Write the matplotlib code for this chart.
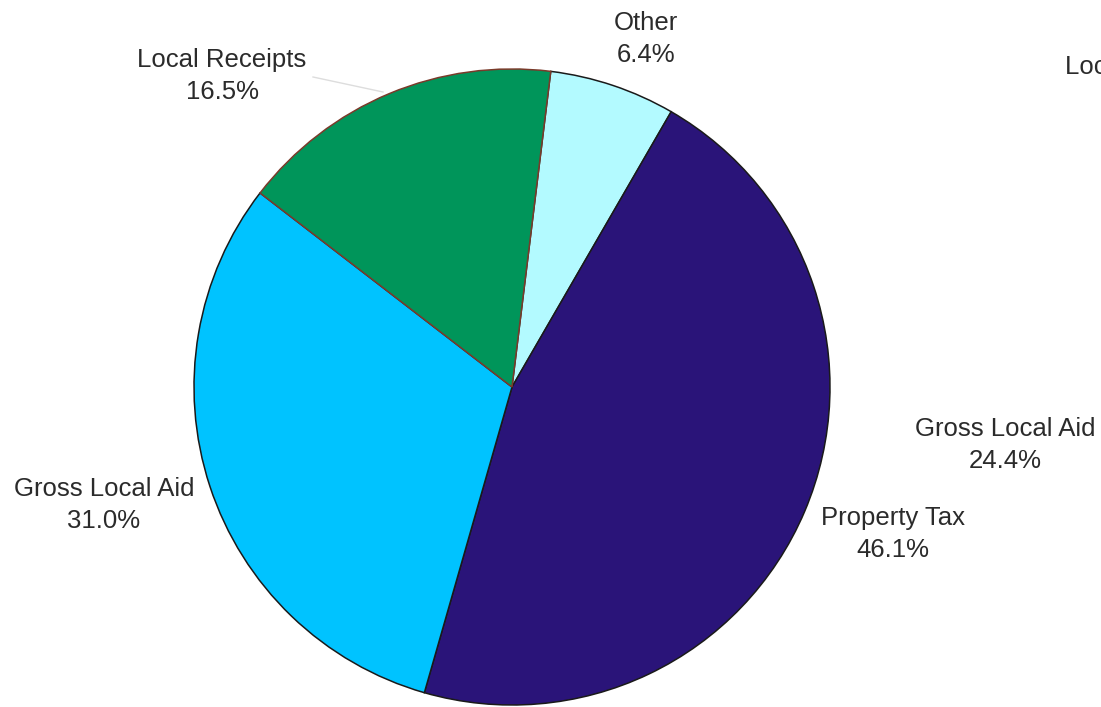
import matplotlib
matplotlib.use("Agg")
import matplotlib.pyplot as plt

# Revenue sources (percent of total), listed clockwise from the top
categories = ["Other", "Property Tax", "Gross Local Aid", "Local Receipts"]
shares = [6.4, 46.1, 31.0, 16.5]
colors = ["#B3FAFF", "#2A1479", "#00C3FF", "#00955A"]
edge_colors = ["#1a1a1a", "#1a1a1a", "#1a1a1a", "#7a3a2a"]

# Label positions in pixel coordinates (x right, y up)
label_pos = {
    "Other": (646, 668),
    "Property Tax": (893, 173),
    "Gross Local Aid": (104, 202),
    "Local Receipts": (222, 631),
}

# Second chart partly visible at the right edge
second_labels = ["Gross Local Aid", "Local Receipts"]
second_shares = [24.4, None]
second_pos = [(1005, 262), (1150, 640)]

W, H = 1101, 707
fig = plt.figure(figsize=(W / 100, H / 100), dpi=100)
ax = fig.add_axes([0, 0, 1, 1])

wedges, _ = ax.pie(shares, colors=colors, startangle=83, counterclock=False,
                   center=(512, 320), radius=318, frame=True,
                   wedgeprops=dict(linewidth=1.1))
for w, ec in zip(wedges, edge_colors):
    w.set_edgecolor(ec)
ax.set_xlim(0, W)
ax.set_ylim(0, H)
ax.set_aspect("equal")
ax.axis("off")

font = dict(family=["Liberation Sans", "DejaVu Sans"], fontsize=18.5,
            color="#2b2b2b", ha="center", va="center", linespacing=1.4)

for name, val in zip(categories, shares):
    x, y = label_pos[name]
    ax.text(x, y, f"{name}\n{val:.1f}%", **font)

# Leader line for Local Receipts
ax.plot([313, 383], [630, 615], color="#dddddd", lw=1)

for name, val, (x, y) in zip(second_labels, second_shares, second_pos):
    txt = name if val is None else f"{name}\n{val:.1f}%"
    ax.text(x, y, txt, clip_on=False, **font)

fig.savefig("out.png", dpi=100)
